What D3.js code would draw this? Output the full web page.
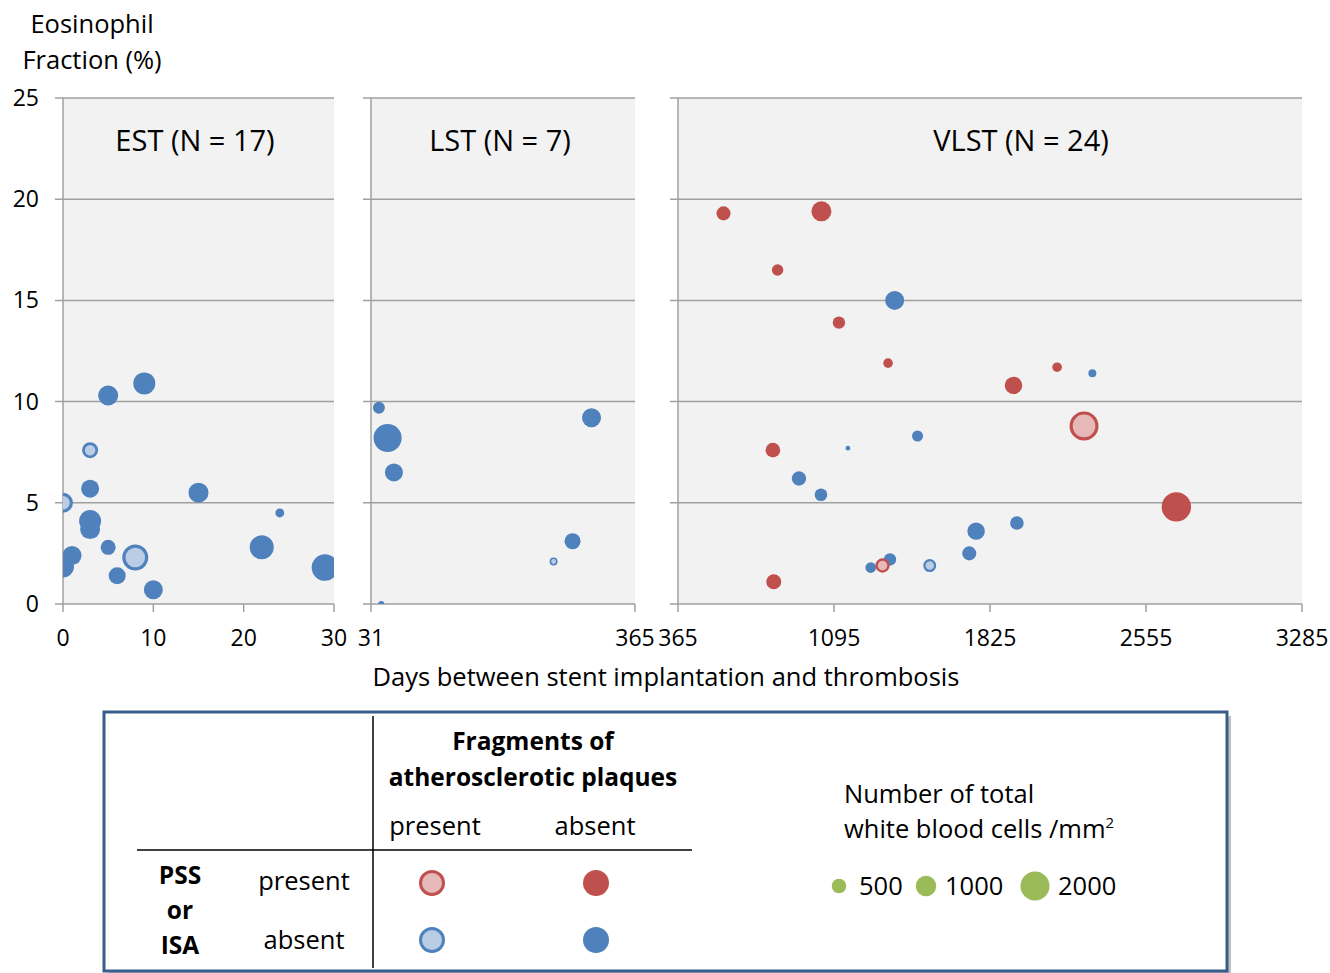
<!DOCTYPE html>
<html>
<head>
<meta charset="utf-8">
<script src="https://cdn.jsdelivr.net/npm/d3@7"></script>
<style>
  body { margin: 0; background: #fff; }
  text { font-family: "Open Sans", sans-serif; fill: #000; }
</style>
</head>
<body>
<div id="vis"></div>
<script>
// panel setup
const panelNames = ["EST (N = 17)", "LST (N = 7)", "VLST (N = 24)"];
const panelDomains = [[0, 30], [31, 365], [365, 3285]];
const panelTicks = [[0, 10, 20, 30], [31, 365], [365, 1095, 1825, 2555, 3285]];
const yTicks = [0, 5, 10, 15, 20, 25];

// type codes: A = both absent, F = fragments present, P = PSS/ISA present, PF = both present
const estDays = [9, 5, 3, 3, 0, 15, 3, 3, 24, 5, 8, 22, 1, 0, 6, 10, 29];
const estEos  = [10.9, 10.3, 7.6, 5.7, 5.0, 5.5, 4.1, 3.7, 4.5, 2.8, 2.3, 2.8, 2.4, 1.85, 1.4, 0.7, 1.8];
const estWbc  = [1150, 950, 610, 770, 950, 950, 1150, 950, 190, 535, 1610, 1370, 860, 1150, 690, 860, 1680];
const estType = ["A","A","F","A","F","A","A","A","A","A","F","A","A","A","A","A","A"];

const lstDays = [41, 52, 60, 310, 286, 262, 44];
const lstEos  = [9.7, 8.2, 6.5, 9.2, 3.1, 2.1, 0.0];
const lstWbc  = [340, 1870, 770, 860, 610, 150, 90];
const lstType = ["A","A","A","A","A","F","A"];

const vlstDays = [578, 1036, 831, 1379, 1118, 1348, 2139, 2304, 1935, 2265, 1486, 1160, 809, 931, 1034, 2697, 1951, 1760, 1728, 1357, 1267, 1322, 1543, 813];
const vlstEos  = [19.3, 19.4, 16.5, 15.0, 13.9, 11.9, 11.7, 11.4, 10.8, 8.8, 8.3, 7.7, 7.6, 6.2, 5.4, 4.8, 4.0, 3.6, 2.5, 2.2, 1.8, 1.9, 1.9, 1.1];
const vlstWbc  = [470, 950, 310, 860, 365, 220, 220, 150, 720, 2000, 290, 50, 510, 490, 380, 2050, 440, 720, 470, 365, 270, 490, 400, 535];
const vlstType = ["P","P","P","A","P","P","P","A","P","PF","A","A","P","A","A","P","A","A","A","A","A","PF","F","P"];

const legendWbc = [500, 1000, 2000];

const colors = {
  A:  {fill: "#4f81bd", stroke: null},
  F:  {fill: "#b9cde5", stroke: "#4f81bd"},
  P:  {fill: "#c0504d", stroke: null},
  PF: {fill: "#e6b9b8", stroke: "#c0504d"}
};

function rows(days, eos, wbc, type) {
  return days.map((d, i) => ({day: d, eos: eos[i], wbc: wbc[i], type: type[i]}));
}
const panelData = [
  rows(estDays, estEos, estWbc, estType),
  rows(lstDays, lstEos, lstWbc, lstType),
  rows(vlstDays, vlstEos, vlstWbc, vlstType)
];

// layout
const panelX = [[63, 334], [371, 635], [678, 1302]];
const titleX = [195, 500, 1021];
const plotTop = 98, plotBottom = 604;
const gridColor = "#a0a0a0";
const fs = '25.5px';

let svg = d3.select('#vis')
  .append('svg')
  .attr('width', 1330)
  .attr('height', 973);

const y = d3.scaleLinear().domain([0, 25]).range([plotBottom, plotTop]);
const r = d3.scaleSqrt().domain([0, 2000]).range([0, 14.5]);

// y axis title
svg.append('text').attr('x', 92).attr('y', 33).attr('text-anchor', 'middle')
  .style('font-size', fs).text('Eosinophil');
svg.append('text').attr('x', 92).attr('y', 69).attr('text-anchor', 'middle')
  .style('font-size', fs).text('Fraction (%)');

panelNames.forEach((name, p) => {
  const [x0, x1] = panelX[p];
  const x = d3.scaleLinear().domain(panelDomains[p]).range([x0, x1]);
  const g = svg.append('g');

  g.append('rect')
    .attr('x', x0).attr('y', plotTop)
    .attr('width', x1 - x0).attr('height', plotBottom - plotTop)
    .attr('fill', '#f2f2f2');

  // gridlines (with the little tick stub on the left)
  g.selectAll('.grid').data(yTicks).enter().append('line')
    .attr('x1', x0 - 8).attr('x2', x1)
    .attr('y1', d => y(d)).attr('y2', d => y(d))
    .attr('stroke', gridColor).attr('stroke-width', 1.5);

  // left axis line
  g.append('line').attr('x1', x0).attr('x2', x0)
    .attr('y1', plotTop).attr('y2', plotBottom)
    .attr('stroke', gridColor).attr('stroke-width', 1.5);

  // x ticks
  g.selectAll('.xt').data(panelTicks[p]).enter().append('line')
    .attr('x1', d => x(d)).attr('x2', d => x(d))
    .attr('y1', plotBottom).attr('y2', plotBottom + 8)
    .attr('stroke', gridColor).attr('stroke-width', 1.5);

  g.selectAll('.xl').data(panelTicks[p]).enter().append('text')
    .attr('x', d => x(d)).attr('y', plotBottom + 42)
    .attr('text-anchor', 'middle')
    .style('font-size', '23px')
    .text(d => d);

  if (p === 0) {
    g.selectAll('.yl').data(yTicks).enter().append('text')
      .attr('x', 39).attr('y', d => y(d) + 8)
      .attr('text-anchor', 'end')
      .style('font-size', '23px')
      .text(d => d);
  }

  g.append('text')
    .attr('x', titleX[p]).attr('y', 151)
    .attr('text-anchor', 'middle')
    .style('font-size', '29px')
    .text(name);

  // bubbles, clipped to the plot area
  g.append('clipPath').attr('id', 'clip' + p)
    .append('rect').attr('x', x0).attr('y', plotTop)
    .attr('width', x1 - x0).attr('height', plotBottom - plotTop);

  g.append('g').attr('clip-path', 'url(#clip' + p + ')')
    .selectAll('circle').data(panelData[p]).enter().append('circle')
    .attr('cx', d => x(d.day))
    .attr('cy', d => y(d.eos))
    .each(function(d) {
      const rr = r(d.wbc);
      const c = colors[d.type];
      const sel = d3.select(this).attr('fill', c.fill);
      if (c.stroke) {
        const sw = Math.max(1.5, Math.min(3.2, rr * 0.34));
        sel.attr('r', rr - sw / 2).attr('stroke', c.stroke).attr('stroke-width', sw);
      } else {
        sel.attr('r', rr);
      }
    });
});

svg.append('text')
  .attr('x', 666).attr('y', 686)
  .attr('text-anchor', 'middle')
  .style('font-size', fs)
  .text('Days between stent implantation and thrombosis');

// legend box
const lg = svg.append('g');
lg.append('rect').attr('x', 108).attr('y', 716).attr('width', 1123).attr('height', 259)
  .attr('fill', '#bfbfbf');
lg.append('rect').attr('x', 104).attr('y', 712).attr('width', 1123).attr('height', 259)
  .attr('fill', '#fff').attr('stroke', '#385d8a').attr('stroke-width', 3);

lg.append('line').attr('x1', 373).attr('x2', 373).attr('y1', 716).attr('y2', 968)
  .attr('stroke', '#000').attr('stroke-width', 1.5);
lg.append('line').attr('x1', 137).attr('x2', 692).attr('y1', 850).attr('y2', 850)
  .attr('stroke', '#000').attr('stroke-width', 1.5);

const legendText = [
  ["Fragments of", 533, 750, "middle", "bold"],
  ["atherosclerotic plaques", 533, 786, "middle", "bold"],
  ["present", 435, 835, "middle", "normal"],
  ["absent", 595, 835, "middle", "normal"],
  ["PSS", 180, 884, "middle", "bold"],
  ["or", 180, 919, "middle", "bold"],
  ["ISA", 180, 954, "middle", "bold"],
  ["present", 304, 890, "middle", "normal"],
  ["absent", 304, 949, "middle", "normal"],
  ["Number of total", 844, 803, "start", "normal"]
];
legendText.forEach(t => {
  lg.append('text').attr('x', t[1]).attr('y', t[2])
    .attr('text-anchor', t[3]).style('font-weight', t[4])
    .style('font-size', t[4] === 'bold' ? '24.5px' : fs).text(t[0]);
});
const wbcLabel = lg.append('text').attr('x', 844).attr('y', 838).style('font-size', fs);
wbcLabel.append('tspan').text('white blood cells /mm');
wbcLabel.append('tspan').attr('dy', -10).style('font-size', '15px').text('2');

// type keys
const legendTypes = [["PF", 432, 883], ["P", 596, 883], ["F", 432, 940], ["A", 596, 940]];
legendTypes.forEach(t => {
  const c = colors[t[0]];
  const el = lg.append('circle').attr('cx', t[1]).attr('cy', t[2]).attr('fill', c.fill);
  if (c.stroke) el.attr('r', 11.5).attr('stroke', c.stroke).attr('stroke-width', 3);
  else el.attr('r', 13);
});

// size keys
const sizeX = [839, 926, 1035];
const sizeLabelX = [859, 945, 1058];
legendWbc.forEach((v, i) => {
  lg.append('circle').attr('cx', sizeX[i]).attr('cy', 886).attr('r', r(v)).attr('fill', '#9bbb59');
  lg.append('text').attr('x', sizeLabelX[i]).attr('y', 895)
    .style('font-size', fs).text(v);
});
</script>
</body>
</html>
